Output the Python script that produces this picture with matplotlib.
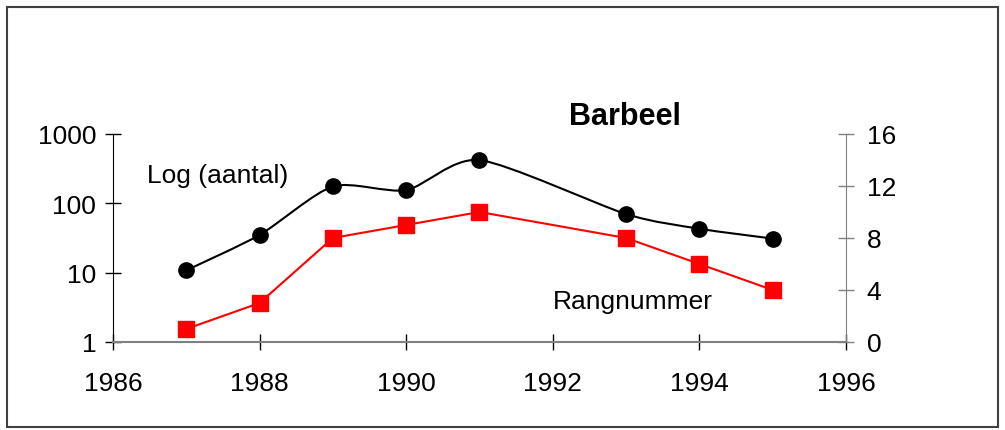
import numpy as np
import matplotlib
matplotlib.use('Agg')
import matplotlib.pyplot as plt
from matplotlib.path import Path
from matplotlib.patches import PathPatch, Rectangle

plt.rcParams['font.family'] = ['Liberation Sans', 'DejaVu Sans']

years = [1987, 1988, 1989, 1990, 1991, 1993, 1994, 1995]
aantal = [10.8, 35, 175, 155, 420, 70, 43, 31]
rang_years = [1987, 1988, 1989, 1990, 1991, 1993, 1994, 1995]
rangnummer = [1, 3, 8, 9, 10, 8, 6, 4]

x_ticks = [1986, 1988, 1990, 1992, 1994, 1996]
left_ticks = [1, 10, 100, 1000]
right_ticks = [0, 4, 8, 12, 16]


def smooth_path(xs, ys, k=1 / 8):
    # smoothed line drawn as cubic Bezier through the points (log-y space)
    lx = np.array(xs, dtype=float)
    ly = np.log10(np.array(ys, dtype=float))
    n = len(lx)
    verts = [(lx[0], ly[0])]
    codes = [Path.MOVETO]
    for i in range(n - 1):
        p0 = (lx[max(i - 1, 0)], ly[max(i - 1, 0)])
        p1 = (lx[i], ly[i])
        p2 = (lx[i + 1], ly[i + 1])
        p3 = (lx[min(i + 2, n - 1)], ly[min(i + 2, n - 1)])
        c1 = (p1[0] + (p2[0] - p0[0]) * k, p1[1] + (p2[1] - p0[1]) * k)
        c2 = (p2[0] - (p3[0] - p1[0]) * k, p2[1] - (p3[1] - p1[1]) * k)
        verts += [c1, c2, p2]
        codes += [Path.CURVE4] * 3
    verts = [(vx, 10 ** vy) for vx, vy in verts]
    return Path(verts, codes)


fig = plt.figure(figsize=(10.05, 4.31), dpi=100)
fig.patch.set_facecolor('white')
fig.patches.append(Rectangle((0.007, 0.006), 0.986, 0.976, transform=fig.transFigure,
                             fill=False, edgecolor='#404040', linewidth=1.5))

ax = fig.add_axes([0.1124, 0.2042, 0.7294, 0.4826])
ax.set_yscale('log')
ax.set_ylim(1, 1000)
ax.set_xlim(1986, 1996)
ax.set_yticks(left_ticks)
ax.set_yticklabels([str(v) for v in left_ticks])
ax.yaxis.set_minor_locator(matplotlib.ticker.NullLocator())
ax.set_xticks(x_ticks)

ax.add_patch(PathPatch(smooth_path(years, aantal), fill=False, edgecolor='black',
                       linewidth=1.5, zorder=3))
ax.plot(years, aantal, linestyle='none', marker='o', color='black',
        markersize=11, zorder=4)

ax.spines['top'].set_visible(False)
ax.spines['right'].set_visible(False)
ax.spines['left'].set_color('black')
ax.spines['bottom'].set_color('#808080')
ax.spines['bottom'].set_linewidth(1.5)
ax.tick_params(axis='y', direction='inout', length=12, width=1, colors='black',
               labelsize=19, pad=6)
ax.tick_params(axis='x', direction='inout', length=12, width=1, color='black',
               labelsize=19, pad=15)

ax2 = ax.twinx()
ax2.set_ylim(0, 16)
ax2.set_yticks(right_ticks)
ax2.plot(rang_years, rangnummer, color='#ff0000', linewidth=1.5, marker='s',
         markersize=11.5, zorder=3)
for s in ['top', 'left', 'bottom']:
    ax2.spines[s].set_visible(False)
ax2.spines['right'].set_color('#808080')
ax2.tick_params(axis='y', direction='inout', length=12, width=1, color='#808080',
                labelcolor='black', labelsize=19, pad=9)

ax.text(1986.46, 256, 'Log (aantal)', fontsize=19, va='center', ha='left')
ax.text(1992.0, 3.9, 'Rangnummer', fontsize=19, va='center', ha='left')
ax.text(0.6985, 1.087, 'Barbeel', transform=ax.transAxes, fontsize=22,
        fontweight='bold', ha='center', va='center')

plt.savefig('out.png', dpi=100, facecolor='white')
